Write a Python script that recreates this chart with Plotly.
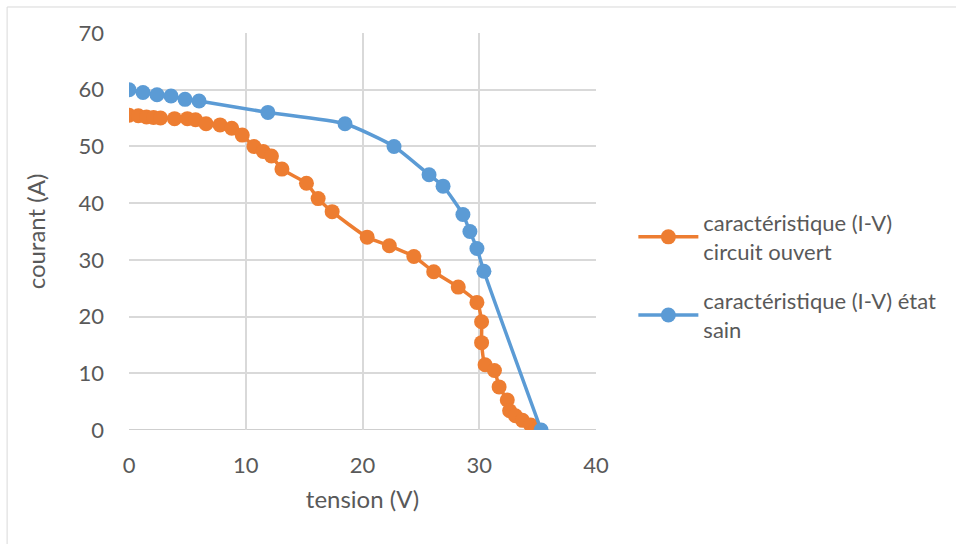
import plotly.graph_objects as go

# Orange series: caractéristique (I-V) circuit ouvert
v_co = [0, 0.8, 1.5, 2.1, 2.7, 3.9, 5.0, 5.7, 6.6, 7.8, 8.8, 9.7, 10.7, 11.5, 12.2, 13.1,
        15.2, 16.2, 17.4, 20.4, 22.3, 24.4, 26.1, 28.2, 29.8, 30.2, 30.2, 30.5, 31.3, 31.7,
        32.4, 32.6, 33.1, 33.7, 34.4, 34.8]
i_co = [55.5, 55.4, 55.2, 55.1, 55.0, 54.9, 54.9, 54.7, 54.0, 53.8, 53.2, 52.0, 50.0, 49.1, 48.3, 46.0,
        43.5, 40.8, 38.5, 34.0, 32.5, 30.6, 27.9, 25.2, 22.5, 19.1, 15.4, 11.5, 10.5, 7.6,
        5.3, 3.4, 2.5, 1.7, 0.9, 0.0]

# Blue series: caractéristique (I-V) état sain
v_sain = [0, 1.2, 2.4, 3.6, 4.8, 6.0, 11.9, 18.5, 22.7, 25.7, 26.9, 28.6, 29.2, 29.8, 30.4, 35.3]
i_sain = [60, 59.5, 59.1, 58.9, 58.3, 58.0, 56.0, 54.0, 50.0, 45.0, 43.0, 38.0, 35.0, 32.0, 28.0, 0.0]

names = ["caractéristique (I-V)<br>circuit ouvert", "caractéristique (I-V) état<br>sain"]
colors = ["#ED7D31", "#5B9BD5"]
x_ticks = [0, 10, 20, 30, 40]
y_ticks = [0, 10, 20, 30, 40, 50, 60, 70]

FONT = "Lato, Open Sans, sans-serif"
GRAY = "#595959"

fig = go.Figure()
fig.add_trace(go.Scatter(x=v_co, y=i_co, mode="lines+markers", name=names[0], legendgroup="a",
                         line=dict(color=colors[0], width=3.5, shape="spline", smoothing=0.6),
                         marker=dict(color=colors[0], size=15)))
fig.add_trace(go.Scatter(x=v_sain, y=i_sain, mode="lines+markers", name=names[1], legendgroup="b",
                         line=dict(color=colors[1], width=3.5, shape="spline", smoothing=0.6),
                         marker=dict(color=colors[1], size=15)))

fig.update_layout(
    width=956, height=544,
    margin=dict(l=129, r=360, t=33, b=114),
    paper_bgcolor="white", plot_bgcolor="white",
    font=dict(family=FONT, color=GRAY, size=22),
    showlegend=True,
    legend=dict(x=1.08, y=0.575, xanchor="left", yanchor="top", traceorder="grouped",
                font=dict(family=FONT, size=22, color=GRAY),
                tracegroupgap=18, itemwidth=60, bgcolor="rgba(0,0,0,0)"),
    xaxis=dict(range=[0, 40], tickvals=x_ticks, showgrid=True, gridcolor="#D9D9D9", gridwidth=1.5,
               zeroline=False, showline=False, ticks="", ticklabelstandoff=20,
               tickfont=dict(size=22, color=GRAY, family=FONT),
               title=dict(text="tension (V)", font=dict(size=24, color=GRAY, family=FONT), standoff=14)),
    yaxis=dict(range=[0, 70], tickvals=y_ticks, showgrid=True, gridcolor="#D9D9D9", gridwidth=1.5,
               zeroline=False, showline=False, ticks="", ticklabelstandoff=24,
               tickfont=dict(size=22, color=GRAY, family=FONT),
               title=dict(text="courant (A)", font=dict(size=24, color=GRAY, family=FONT), standoff=26)),
    shapes=[
        dict(type="line", xref="paper", yref="y", x0=0, x1=1, y0=0, y1=0,
             line=dict(color="#BFBFBF", width=1.5), layer="below"),
        dict(type="rect", xref="paper", yref="paper", x0=-0.261, x1=1.8, y0=-0.5, y1=1.0655,
             line=dict(color="#D9D9D9", width=1), fillcolor="rgba(0,0,0,0)", layer="below"),
    ],
)

fig.write_html("out.html")
